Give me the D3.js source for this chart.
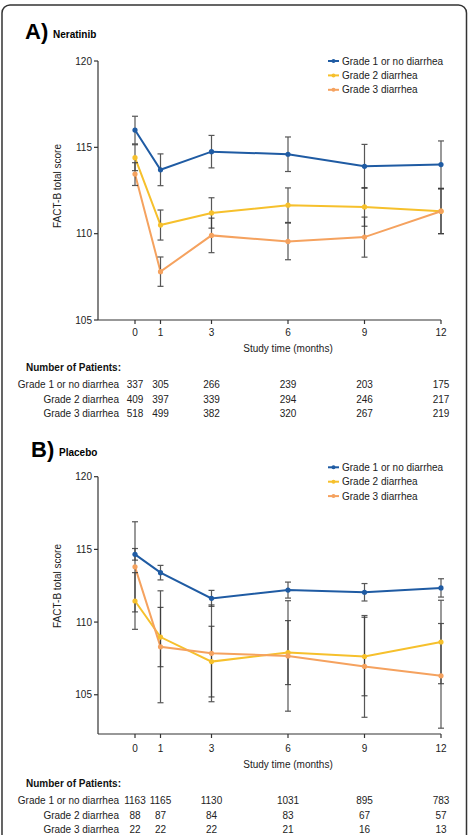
<!DOCTYPE html>
<html>
<head>
<meta charset="utf-8">
<script src="https://cdn.jsdelivr.net/npm/d3@7"></script>
<style>
  body { margin: 0; background: #fff; }
  svg { font-family: "Liberation Sans", Arial, sans-serif; }
</style>
</head>
<body>
<script>
const months = [0, 1, 3, 6, 9, 12];
const groups = ["Grade 1 or no diarrhea", "Grade 2 diarrhea", "Grade 3 diarrhea"];
const colors = ["#1f5ba3", "#f6c02c", "#f5a25f"];

// Neratinib: mean scores and error half-widths
const neratinibMean = [
  [116.0, 113.7, 114.75, 114.6, 113.9, 114.0],
  [114.4, 110.5, 111.2, 111.65, 111.55, 111.3],
  [113.45, 107.8, 109.9, 109.55, 109.8, 111.3]
];
const neratinibErr = [
  [0.8, 0.92, 0.94, 1.0, 1.27, 1.37],
  [0.75, 0.87, 0.88, 1.0, 1.12, 1.3],
  [0.66, 0.85, 1.0, 1.06, 1.16, 1.3]
];
const neratinibN = [
  [337, 305, 266, 239, 203, 175],
  [409, 397, 339, 294, 246, 217],
  [518, 499, 382, 320, 267, 219]
];

// Placebo
const placeboMean = [
  [114.66, 113.4, 111.63, 112.2, 112.05, 112.35],
  [111.45, 108.97, 107.28, 107.9, 107.63, 108.63],
  [113.8, 108.3, 107.85, 107.67, 106.95, 106.3]
];
const placeboErr = [
  [0.4, 0.5, 0.55, 0.55, 0.6, 0.63],
  [1.95, 2.04, 2.43, 2.2, 2.7, 2.87],
  [3.1, 3.85, 3.33, 3.8, 3.5, 3.6]
];
const placeboN = [
  [1163, 1165, 1130, 1031, 895, 783],
  [88, 87, 84, 83, 67, 57],
  [22, 22, 22, 21, 16, 13]
];

const yTicks = [105, 110, 115, 120];

const width = 469, height = 835;
const svg = d3.select("body").append("svg")
  .attr("width", width)
  .attr("height", height);

svg.append("rect")
  .attr("x", 2).attr("y", 5)
  .attr("width", 464.5).attr("height", 850)
  .attr("rx", 8)
  .attr("fill", "none")
  .attr("stroke", "#333")
  .attr("stroke-width", 1.5);

const x = d3.scaleLinear().domain([0, 12]).range([135, 441]);
const axisLeftX = 98;

function panel(opt) {
  const g = svg.append("g");
  const y = d3.scaleLinear().domain(opt.yDomain).range(opt.yRange);
  const bottom = opt.yRange[0];

  // title
  g.append("text").attr("x", opt.letterX).attr("y", opt.titleY)
    .attr("font-size", 22).attr("font-weight", "bold").text(opt.letter);
  g.append("text").attr("x", opt.letterX + 28).attr("y", opt.titleY - 1)
    .attr("font-size", 10).attr("font-weight", "bold").text(opt.name);

  // y axis
  g.append("line")
    .attr("x1", axisLeftX).attr("x2", axisLeftX)
    .attr("y1", y(120)).attr("y2", bottom)
    .attr("stroke", "#333").attr("stroke-width", 1.2);
  yTicks.forEach(t => {
    g.append("line").attr("x1", axisLeftX - 4).attr("x2", axisLeftX)
      .attr("y1", y(t)).attr("y2", y(t)).attr("stroke", "#333").attr("stroke-width", 1.2);
    g.append("text").attr("x", axisLeftX - 6).attr("y", y(t) + 3.5)
      .attr("text-anchor", "end").attr("font-size", 10).attr("fill", "#222").text(t);
  });
  g.append("text")
    .attr("transform", `translate(61,${opt.yLabelY}) rotate(-90)`)
    .attr("text-anchor", "middle").attr("font-size", 10).attr("fill", "#222")
    .text("FACT-B total score");

  // x axis
  g.append("line")
    .attr("x1", axisLeftX).attr("x2", x(12))
    .attr("y1", bottom).attr("y2", bottom)
    .attr("stroke", "#333").attr("stroke-width", 1.2);
  months.forEach(m => {
    g.append("line").attr("x1", x(m)).attr("x2", x(m))
      .attr("y1", bottom).attr("y2", bottom + 4).attr("stroke", "#333").attr("stroke-width", 1.2);
    g.append("text").attr("x", x(m)).attr("y", opt.tickLabelY)
      .attr("text-anchor", "middle").attr("font-size", 10).attr("fill", "#222").text(m);
  });
  g.append("text").attr("x", 288).attr("y", opt.tickLabelY + 16)
    .attr("text-anchor", "middle").attr("font-size", 10).attr("fill", "#222")
    .text("Study time (months)");

  // lines
  const line = d3.line().x((d, i) => x(months[i])).y(d => y(d));
  opt.mean.forEach((s, k) => {
    g.append("path").datum(s)
      .attr("d", line)
      .attr("fill", "none")
      .attr("stroke", colors[k])
      .attr("stroke-width", 2);
  });

  // error bars
  opt.mean.forEach((s, k) => {
    s.forEach((v, i) => {
      const e = opt.err[k][i];
      const cx = x(months[i]);
      const eb = g.append("g").attr("stroke", "#3a3a3a").attr("stroke-width", 1.2).attr("opacity", 0.85);
      eb.append("line").attr("x1", cx).attr("x2", cx).attr("y1", y(v + e)).attr("y2", y(v - e));
      [v + e, v - e].forEach(c => {
        eb.append("line").attr("x1", cx - 3).attr("x2", cx + 3).attr("y1", y(c)).attr("y2", y(c));
      });
    });
  });

  // markers
  opt.mean.forEach((s, k) => {
    g.selectAll(null).data(s).join("circle")
      .attr("cx", (d, i) => x(months[i]))
      .attr("cy", d => y(d))
      .attr("r", 2.6)
      .attr("fill", colors[k]);
  });

  // legend
  groups.forEach((name, k) => {
    const ly = opt.legendY + k * 14.4;
    g.append("line").attr("x1", 328).attr("x2", 339).attr("y1", ly).attr("y2", ly)
      .attr("stroke", colors[k]).attr("stroke-width", 2);
    g.append("circle").attr("cx", 333.5).attr("cy", ly).attr("r", 2).attr("fill", colors[k]);
    g.append("text").attr("x", 342).attr("y", ly + 3.6).attr("font-size", 10).attr("fill", "#222").text(name);
  });

  // number of patients table
  g.append("text").attr("x", 26).attr("y", opt.tableY)
    .attr("font-size", 10).attr("font-weight", "bold").attr("fill", "#111")
    .text("Number of Patients:");
  groups.forEach((name, k) => {
    const ry = opt.tableY + 17 + k * 14.5;
    g.append("text").attr("x", 119).attr("y", ry).attr("text-anchor", "end")
      .attr("font-size", 10).attr("fill", "#222").text(name);
    opt.n[k].forEach((n, i) => {
      g.append("text").attr("x", x(months[i])).attr("y", ry).attr("text-anchor", "middle")
        .attr("font-size", 10).attr("fill", "#222").text(n);
    });
  });
}

panel({
  letter: "A)", name: "Neratinib", letterX: 25, titleY: 39,
  yDomain: [105, 120], yRange: [320, 61], yLabelY: 186,
  tickLabelY: 336, legendY: 61, tableY: 371,
  mean: neratinibMean, err: neratinibErr, n: neratinibN
});

panel({
  letter: "B)", name: "Placebo", letterX: 31, titleY: 457,
  yDomain: [102.3, 120], yRange: [734, 476.7], yLabelY: 586,
  tickLabelY: 752, legendY: 467.3, tableY: 787,
  mean: placeboMean, err: placeboErr, n: placeboN
});
</script>
</body>
</html>
